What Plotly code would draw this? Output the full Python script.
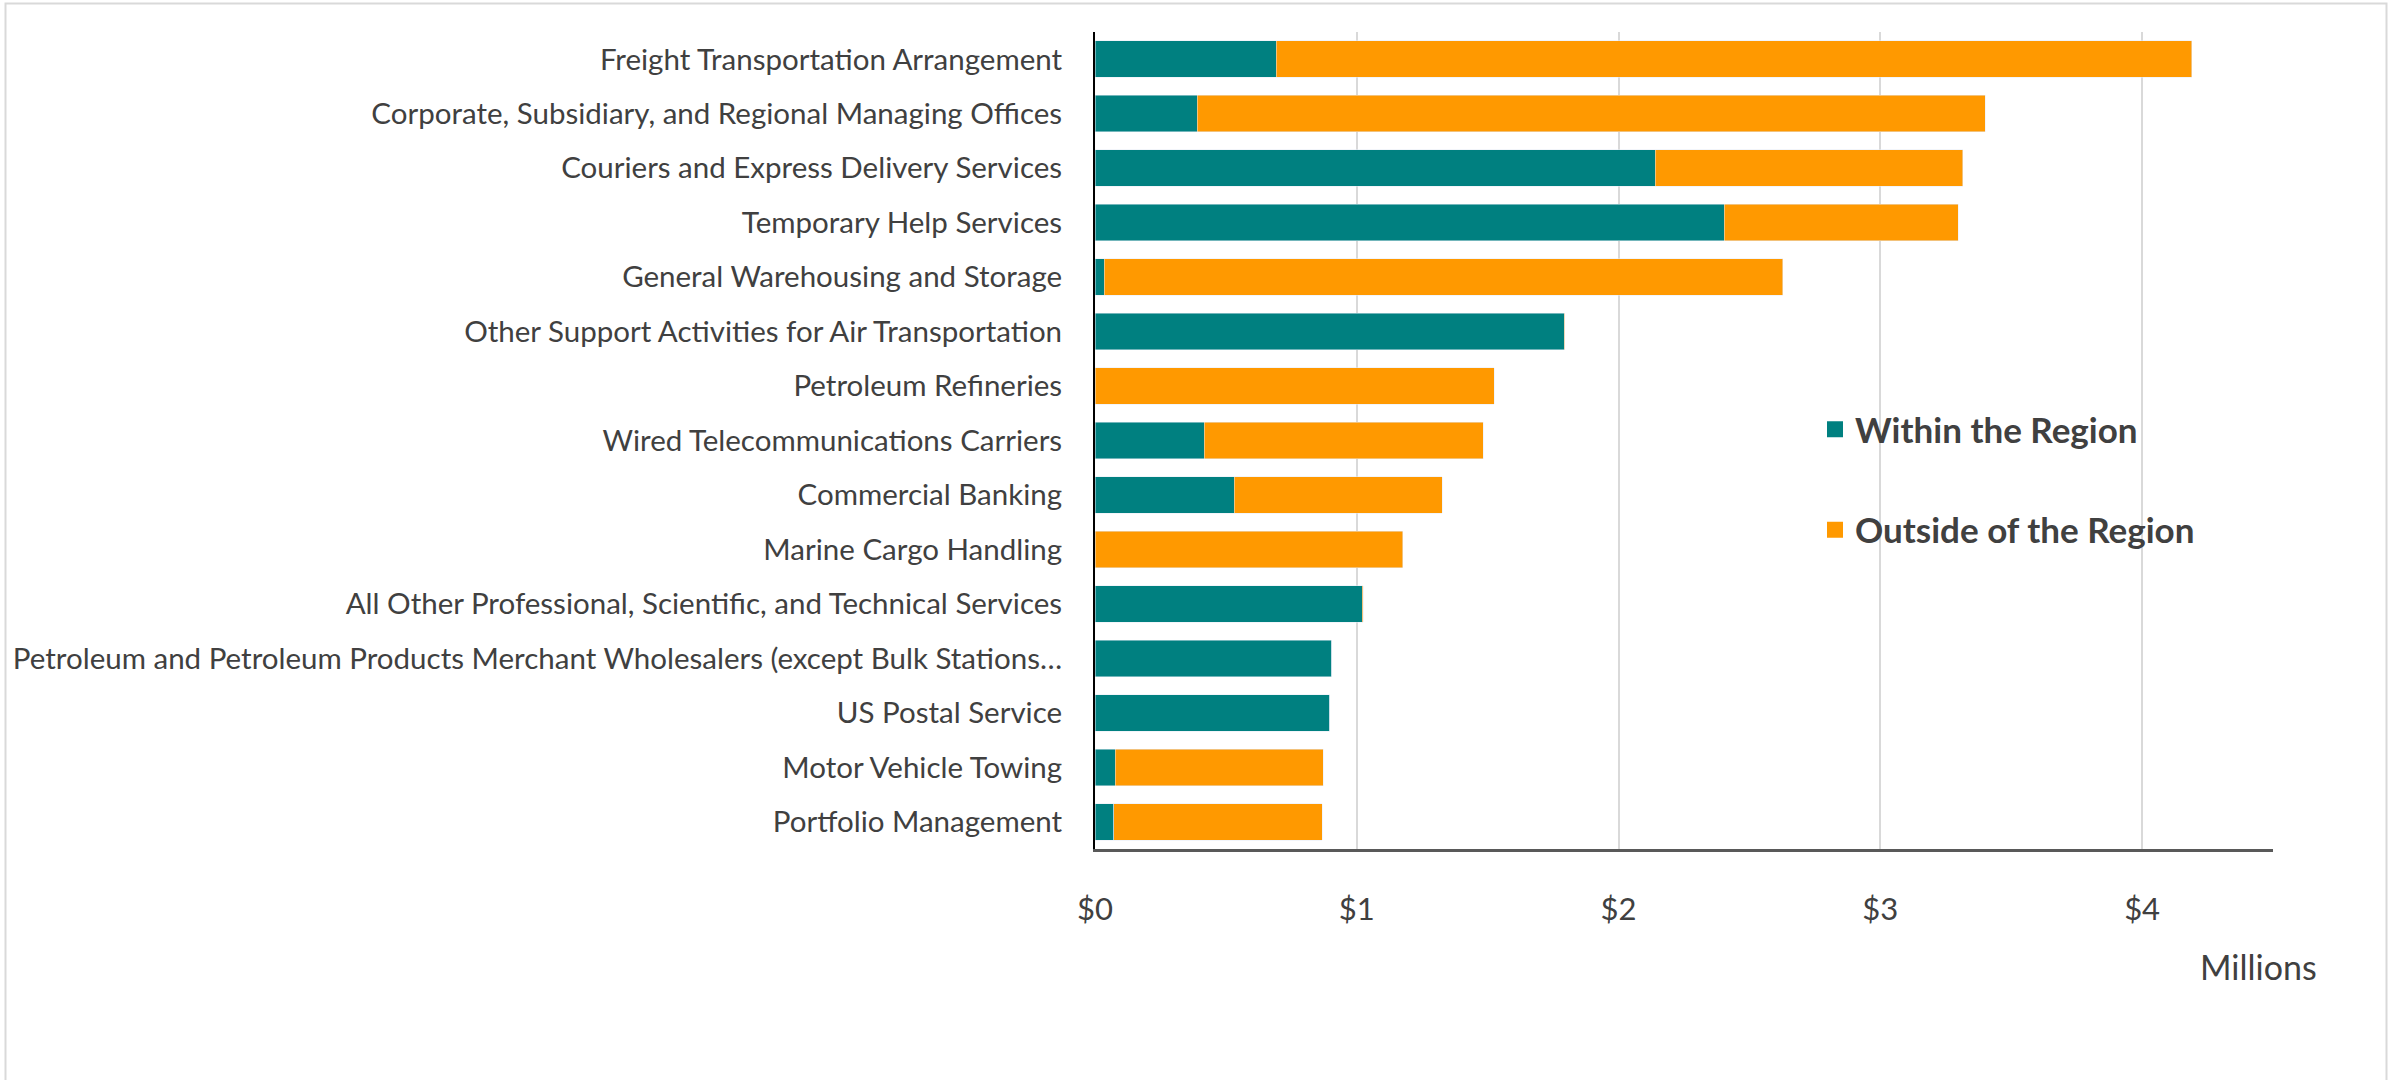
import plotly.graph_objects as go

categories = [
    "Freight Transportation Arrangement",
    "Corporate, Subsidiary, and Regional Managing Offices",
    "Couriers and Express Delivery Services",
    "Temporary Help Services",
    "General Warehousing and Storage",
    "Other Support Activities for Air Transportation",
    "Petroleum Refineries",
    "Wired Telecommunications Carriers",
    "Commercial Banking",
    "Marine Cargo Handling",
    "All Other Professional, Scientific, and Technical Services",
    "Petroleum and Petroleum Products Merchant Wholesalers (except Bulk Stations…",
    "US Postal Service",
    "Motor Vehicle Towing",
    "Portfolio Management",
]
within_region = [0.692, 0.391, 2.141, 2.404, 0.035, 1.792, 0.0, 0.417, 0.532, 0.0,
                 1.020, 0.904, 0.897, 0.077, 0.071]
outside_region = [3.498, 3.009, 1.173, 0.894, 2.593, 0.002, 1.526, 1.067, 0.795, 1.176,
                  0.004, 0.0, 0.0, 0.795, 0.798]
series_names = ["Within the Region", "Outside of the Region"]
tick_values = [0, 1, 2, 3, 4]
tick_labels = ["$0", "$1", "$2", "$3", "$4"]

TEAL = "#008080"
ORANGE = "#FF9900"
TEXT = "#404040"
FONT = "Lato"

W, H = 2397, 1080
L, R, T, B = 1095, 124, 32, 231
PW = W - L - R
PH = H - T - B


def px_x(p):
    return (p - L) / PW


def px_y(p):
    return (H - B - p) / PH


fig = go.Figure()
fig.add_trace(go.Bar(y=categories, x=within_region, orientation="h", marker=dict(color=TEAL),
                     name=series_names[0], showlegend=False, hoverinfo="x+y"))
fig.add_trace(go.Bar(y=categories, x=outside_region, orientation="h", marker=dict(color=ORANGE),
                     name=series_names[1], showlegend=False, hoverinfo="x+y"))
# legend entries
fig.add_trace(go.Scatter(x=[None], y=[None], mode="markers", name=series_names[0],
                         marker=dict(symbol="square", size=16, color=TEAL), legendgroup="a"))
fig.add_trace(go.Scatter(x=[None], y=[None], mode="markers", name=series_names[1],
                         marker=dict(symbol="square", size=16, color=ORANGE), legendgroup="b"))

fig.update_layout(
    width=W, height=H,
    margin=dict(l=L, r=R, t=T, b=B, pad=0),
    paper_bgcolor="white", plot_bgcolor="white",
    barmode="stack", bargap=0.33,
    font=dict(family=FONT, color=TEXT),
    legend=dict(
        x=px_x(1815), y=px_y(400), xanchor="left", yanchor="top",
        traceorder="grouped", tracegroupgap=52,
        font=dict(family=FONT, size=35, color=TEXT, weight="bold"),
        bgcolor="rgba(0,0,0,0)", itemwidth=30,
    ),
    xaxis=dict(
        range=[0, 4.5], tickmode="array", tickvals=tick_values, ticktext=tick_labels,
        showgrid=True, gridcolor="#d9d9d9", gridwidth=2,
        zeroline=False, showline=True, linecolor="#595959", linewidth=3,
        ticks="", ticklabelstandoff=31,
        tickfont=dict(family=FONT, size=31, color=TEXT),
    ),
    yaxis=dict(
        autorange="reversed", showgrid=False, zeroline=False,
        showline=True, linecolor="#000000", linewidth=2,
        ticks="", ticklabelstandoff=25,
        tickfont=dict(family=FONT, size=29.5, color=TEXT),
    ),
    annotations=[dict(text="Millions", xref="paper", yref="paper",
                      x=px_x(2258), y=px_y(966), xanchor="center", yanchor="middle",
                      showarrow=False, font=dict(family=FONT, size=34, color=TEXT))],
    shapes=[dict(type="rect", xref="paper", yref="paper",
                 x0=px_x(5.5), x1=px_x(2386.5), y0=px_y(1200), y1=px_y(3.5),
                 line=dict(color="#d9d9d9", width=2), fillcolor="rgba(0,0,0,0)", layer="below")],
)

fig.write_html("out.html", config={"displayModeBar": False},
               post_script="document.body.style.margin='0';")
